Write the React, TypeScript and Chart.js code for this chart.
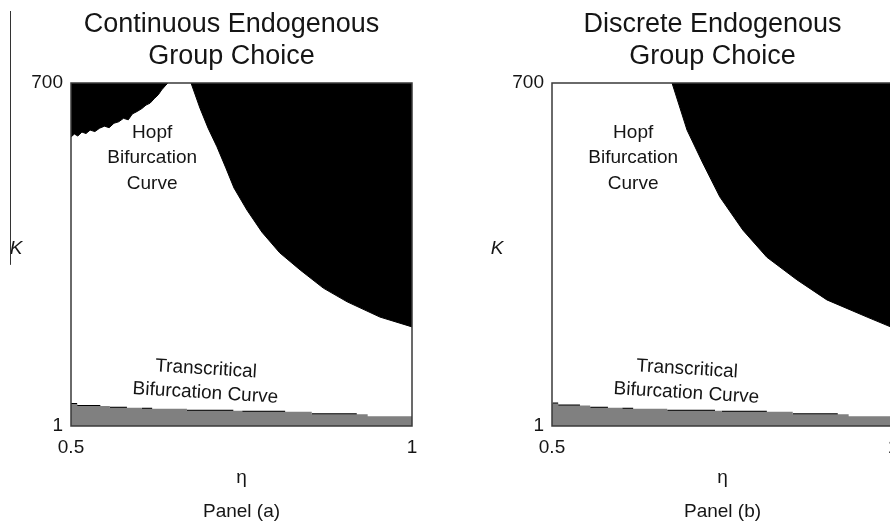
import React, { useEffect, useRef } from 'react';
import { Chart, registerables } from 'chart.js';

Chart.register(...registerables);
Chart.defaults.font.family = '"Liberation Sans", Arial, Helvetica, sans-serif';

// Axis ticks shared by both panels
const X_TICKS = [0.5, 1];
const Y_TICKS = [1, 700];

// Panel (a): continuous endogenous group choice
// Hopf bifurcation curve (unstable region lies above / right of it)
const HOPF_ETA_A = [0.676, 0.689, 0.701, 0.714, 0.727, 0.739, 0.758, 0.78, 0.806, 0.836, 0.87, 0.905, 0.953, 1.0];
const HOPF_K_A = [700, 649, 608, 570, 527, 486, 441, 396, 354, 319, 282, 254, 223, 203];
// Ragged unstable patch in the upper-left corner
const PATCH_ETA_A = [0.5, 0.505, 0.51, 0.516, 0.522, 0.528, 0.535, 0.542, 0.549, 0.556, 0.563, 0.57, 0.577, 0.584, 0.59, 0.597, 0.604, 0.61, 0.616, 0.622, 0.628, 0.633, 0.638, 0.642];
const PATCH_K_A = [590, 596, 592, 600, 597, 604, 601, 608, 612, 609, 618, 621, 628, 625, 637, 642, 648, 655, 659, 668, 676, 686, 694, 700];
// Transcritical bifurcation curve (extinction region below it); each K holds until the next η
const TRANS_ETA_A = [0.5, 0.509, 0.557, 0.604, 0.67, 0.751, 0.853, 0.935, 1.0];
const TRANS_K_A = [46, 42, 38, 36, 32, 30, 25, 21, 21];
const TRANS_DASH_FROM_A = [0.5, 0.509, 0.557, 0.604, 0.67, 0.751, 0.853];
const TRANS_DASH_TO_A = [0.509, 0.543, 0.582, 0.619, 0.738, 0.814, 0.919];
const TRANS_DASH_K_A = [46, 42, 38, 36, 32, 30, 25];

// Panel (b): discrete endogenous group choice
const HOPF_ETA_B = [0.676, 0.698, 0.721, 0.746, 0.78, 0.815, 0.859, 0.903, 0.962, 1.0];
const HOPF_K_B = [700, 604, 537, 468, 400, 345, 299, 258, 223, 201];
const TRANS_ETA_B = [0.5, 0.509, 0.556, 0.603, 0.669, 0.749, 0.853, 0.935, 1.0];
const TRANS_K_B = [47, 43, 38, 36, 32, 30, 25, 21, 21];
const TRANS_DASH_FROM_B = [0.501, 0.509, 0.556, 0.603, 0.669, 0.749, 0.853];
const TRANS_DASH_TO_B = [0.509, 0.541, 0.582, 0.619, 0.739, 0.815, 0.919];
const TRANS_DASH_K_B = [47, 43, 38, 36, 32, 30, 25];

const FONT = '"Liberation Sans", Arial, Helvetica, sans-serif';
const TEXT = '#151515';

type PanelSpec = {
  title: string[];
  caption: string;
  hopfEta: number[];
  hopfK: number[];
  patchEta?: number[];
  patchK?: number[];
  transEta: number[];
  transK: number[];
  dashFrom: number[];
  dashTo: number[];
  dashK: number[];
  edgeRule: boolean;
};

const PANELS: PanelSpec[] = [
  {
    title: ['Continuous Endogenous', 'Group Choice'],
    caption: 'Panel (a)',
    hopfEta: HOPF_ETA_A,
    hopfK: HOPF_K_A,
    patchEta: PATCH_ETA_A,
    patchK: PATCH_K_A,
    transEta: TRANS_ETA_A,
    transK: TRANS_K_A,
    dashFrom: TRANS_DASH_FROM_A,
    dashTo: TRANS_DASH_TO_A,
    dashK: TRANS_DASH_K_A,
    edgeRule: true,
  },
  {
    title: ['Discrete Endogenous', 'Group Choice'],
    caption: 'Panel (b)',
    hopfEta: HOPF_ETA_B,
    hopfK: HOPF_K_B,
    transEta: TRANS_ETA_B,
    transK: TRANS_K_B,
    dashFrom: TRANS_DASH_FROM_B,
    dashTo: TRANS_DASH_TO_B,
    dashK: TRANS_DASH_K_B,
    edgeRule: false,
  },
];

const toPoints = (xs: number[], ys: number[]) => xs.map((x, i) => ({ x, y: ys[i] }));

const dashPoints = (from: number[], to: number[], ks: number[]) =>
  from.flatMap((f, i) => [
    { x: f, y: ks[i] },
    { x: to[i], y: ks[i] },
    { x: to[i], y: null as any },
  ]);

// Panel title, labels inside the plot, the K axis label and the plot frame
const annotationPlugin = (spec: PanelSpec) => ({
  id: 'panelAnnotations',
  afterDatasetsDraw(chart: any) {
    const { ctx, chartArea, scales } = chart;
    const xs = scales.x;
    const ys = scales.y;
    ctx.save();

    // frame
    ctx.strokeStyle = '#3a3a3a';
    ctx.lineWidth = 1.5;
    ctx.strokeRect(chartArea.left, chartArea.top, chartArea.right - chartArea.left, chartArea.bottom - chartArea.top);

    ctx.fillStyle = TEXT;
    ctx.textAlign = 'center';
    ctx.textBaseline = 'middle';

    // title, two lines above the plot
    ctx.font = `27px ${FONT}`;
    const tx = (chartArea.left + chartArea.right) / 2 - 10;
    spec.title.forEach((s, i) => ctx.fillText(s, tx, chartArea.top - 58 + i * 32));

    // Hopf label
    ctx.font = `19px ${FONT}`;
    const hx = xs.getPixelForValue(0.619);
    const hy = ys.getPixelForValue(547);
    ['Hopf', 'Bifurcation', 'Curve'].forEach((s, i) => ctx.fillText(s, hx, hy + (i - 1) * 25.5));

    // Transcritical label, tilted along the curve
    const tilt = (3.5 * Math.PI) / 180;
    const drawTilted = (s: string, eta: number, k: number) => {
      ctx.save();
      ctx.translate(xs.getPixelForValue(eta), ys.getPixelForValue(k));
      ctx.rotate(tilt);
      ctx.fillText(s, 0, 0);
      ctx.restore();
    };
    drawTilted('Transcritical', 0.698, 117);
    drawTilted('Bifurcation Curve', 0.697, 68);

    // K axis label
    ctx.font = `italic 19px ${FONT}`;
    const ky = ys.getPixelForValue(362);
    ctx.fillText('K', chartArea.left - 55, ky);

    if (spec.edgeRule) {
      ctx.strokeStyle = '#333';
      ctx.lineWidth = 1;
      ctx.beginPath();
      ctx.moveTo(chartArea.left - 61 + 0.5, chartArea.top - 72);
      ctx.lineTo(chartArea.left - 61 + 0.5, ky + 16);
      ctx.stroke();
    }
    ctx.restore();
  },
});

function Panel({ spec, left }: { spec: PanelSpec; left: number }) {
  const ref = useRef<HTMLCanvasElement>(null);

  useEffect(() => {
    const datasets: any[] = [
      {
        label: 'extinction',
        data: toPoints(spec.transEta, spec.transK),
        stepped: 'before',
        fill: 'start',
        backgroundColor: '#808080',
        borderColor: '#808080',
        borderWidth: 0,
        pointRadius: 0,
      },
      {
        label: 'transcritical',
        data: dashPoints(spec.dashFrom, spec.dashTo, spec.dashK),
        fill: false,
        borderColor: '#000',
        borderWidth: 2,
        pointRadius: 0,
        spanGaps: false,
      },
      {
        label: 'hopf',
        data: toPoints(spec.hopfEta, spec.hopfK),
        fill: 'end',
        backgroundColor: '#000',
        borderColor: '#000',
        borderWidth: 1,
        pointRadius: 0,
        tension: 0,
      },
    ];
    if (spec.patchEta && spec.patchK) {
      datasets.push({
        label: 'hopf-patch',
        data: toPoints(spec.patchEta, spec.patchK),
        fill: 'end',
        backgroundColor: '#000',
        borderColor: '#000',
        borderWidth: 1,
        pointRadius: 0,
        tension: 0,
      });
    }

    const chart = new Chart(ref.current!, {
      type: 'line',
      data: { datasets },
      options: {
        animation: false,
        responsive: false,
        events: [],
        layout: { padding: { left: 0, right: 69, top: 83, bottom: 0 } },
        plugins: {
          legend: { display: false },
          tooltip: { enabled: false },
          title: { display: false },
        },
        scales: {
          x: {
            type: 'linear',
            min: 0.5,
            max: 1,
            afterBuildTicks: (s: any) => {
              s.ticks = X_TICKS.map((v) => ({ value: v }));
            },
            afterFit: (s: any) => {
              s.height = 103;
            },
            grid: { display: false, drawTicks: false },
            border: { display: false },
            ticks: {
              color: TEXT,
              font: { size: 19 },
              padding: 10,
              maxRotation: 0,
              autoSkip: false,
              callback: (v: any) => String(v),
            },
            title: {
              display: true,
              text: ['\u03b7', spec.caption],
              color: TEXT,
              font: { size: 19, lineHeight: 34 / 19 },
              padding: { top: 0, bottom: 0 },
            },
          },
          y: {
            type: 'linear',
            min: 1,
            max: 700,
            afterBuildTicks: (s: any) => {
              s.ticks = Y_TICKS.map((v) => ({ value: v }));
            },
            afterFit: (s: any) => {
              s.width = 71;
            },
            grid: { display: false, drawTicks: false },
            border: { display: false },
            ticks: {
              color: TEXT,
              font: { size: 19 },
              padding: 8,
              autoSkip: false,
              callback: (v: any) => String(v),
            },
          },
        },
      },
      plugins: [annotationPlugin(spec)],
    } as any);

    return () => chart.destroy();
  }, [spec]);

  return (
    <canvas
      ref={ref}
      width={481}
      height={529}
      style={{ position: 'absolute', left, top: 0, display: 'block' }}
    />
  );
}

export default function App() {
  return (
    <div
      style={{
        position: 'absolute',
        left: 0,
        top: 0,
        width: 890,
        height: 525,
        overflow: 'hidden',
        background: '#fff',
      }}
    >
      <Panel spec={PANELS[0]} left={0} />
      <Panel spec={PANELS[1]} left={481} />
    </div>
  );
}
